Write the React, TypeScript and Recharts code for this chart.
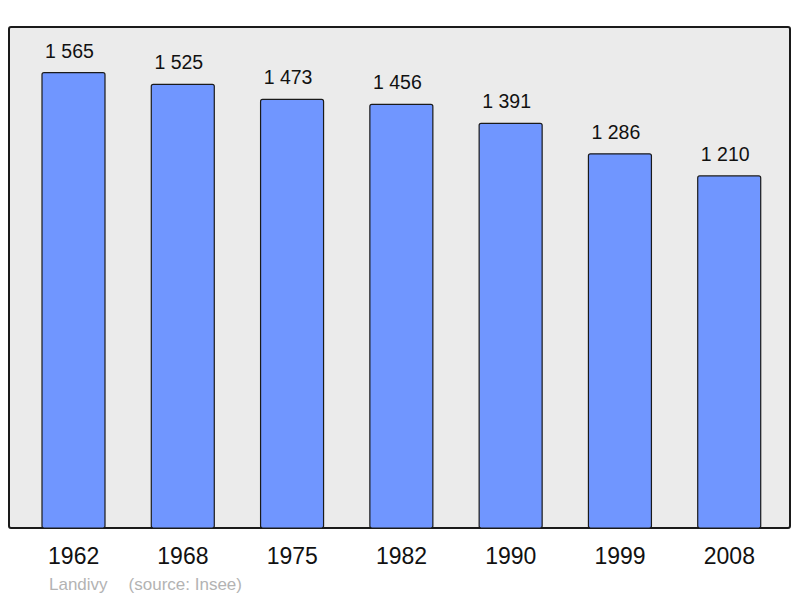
import { BarChart, Bar, XAxis, YAxis, LabelList } from 'recharts';

const years = ['1962', '1968', '1975', '1982', '1990', '1999', '2008'];
const population = [1565, 1525, 1473, 1456, 1391, 1286, 1210];
const yMax = 1722;

const data = years.map((year, i) => ({ year, population: population[i] }));

const fmt = (v: number) => String(v).replace(/\B(?=(\d{3})+(?!\d))/g, ' ');

const FONT = '"Liberation Sans", Arial, sans-serif';

function YearTick({ x, y, payload }: any) {
  return (
    <text x={x} y={y} dy={28} textAnchor="middle" fontSize={23} fontFamily={FONT} fill="#111">
      {payload.value}
    </text>
  );
}

function ValueLabel({ x, y, width, value }: any) {
  return (
    <text x={x + width / 2 - 4} y={y - 15} textAnchor="middle" fontSize={19.5} fontFamily={FONT} fill="#111">
      {fmt(value)}
    </text>
  );
}

export default function App() {
  return (
    <div style={{ position: 'absolute', left: 0, top: 0, width: 800, height: 598, background: '#fff' }}>
      <div
        style={{
          position: 'absolute', left: 8, top: 26, width: 783, height: 503,
          boxSizing: 'border-box', border: '2px solid #1a1a1a', borderRadius: 3, background: '#ebebeb',
        }}
      />
      <div style={{ position: 'absolute', left: 0, top: 0 }}>
        <BarChart width={800} height={598} data={data} margin={{ top: 27, right: 9, bottom: 30, left: 9 }}>
          <XAxis
            dataKey="year"
            axisLine={false}
            tickLine={false}
            height={40}
            padding={{ left: 10, right: 7 }}
            tick={<YearTick />}
            interval={0}
          />
          <YAxis hide domain={[0, yMax]} />
          <Bar
            dataKey="population"
            fill="#7096ff"
            stroke="#1a1a1a"
            strokeWidth={1.2}
            barSize={63}
            radius={2}
            isAnimationActive={false}
          >
            <LabelList dataKey="population" content={<ValueLabel />} />
          </Bar>
        </BarChart>
      </div>
      <div
        style={{
          position: 'absolute', left: 49, top: 576, fontSize: 17, lineHeight: 1,
          fontFamily: FONT, color: '#b3b3b3', whiteSpace: 'nowrap',
        }}
      >
        <span>Landivy</span>
        <span style={{ marginLeft: 21 }}>(source: Insee)</span>
      </div>
    </div>
  );
}
